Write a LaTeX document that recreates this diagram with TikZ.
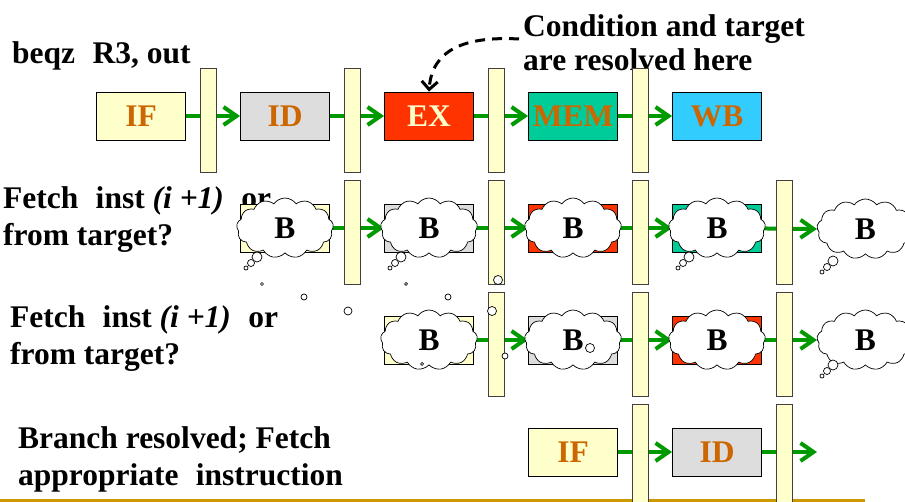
\documentclass[tikz,border=0pt]{standalone}
\usepackage{fontspec}
\setmainfont{Liberation Serif}
\usetikzlibrary{shapes.symbols,arrows.meta}

\definecolor{latchyellow}{HTML}{FFFFCC}
\definecolor{idgray}{HTML}{DDDDDD}
\definecolor{exred}{HTML}{FF3300}
\definecolor{memgreen}{HTML}{00CC99}
\definecolor{wbblue}{HTML}{33CCFF}
\definecolor{stagetext}{HTML}{CC6600}
\definecolor{flowgreen}{HTML}{009900}
\definecolor{rulegold}{HTML}{CC9900}

\newcommand{\bigbold}{\fontsize{31.5}{37}\selectfont\bfseries}
\newcommand{\wide}{\hspace{0.55em}}

\tikzset{
    stagebox/.style={draw=black, line width=0.9pt, minimum width=89pt,
        minimum height=48pt, inner sep=0pt, font=\bigbold, text=stagetext},
    latchbar/.style={draw=black!75, fill=latchyellow, line width=0.9pt,
        minimum width=16pt, minimum height=104pt, inner sep=0pt},
    flow/.style={draw=flowgreen, line width=4pt,
        -{Straight Barb[length=13pt,width=18pt]}},
    thought/.style={cloud, cloud puffs=13, cloud puff arc=110,
        cloud ignores aspect, draw, fill=white, line width=0.7pt,
        minimum width=97pt, minimum height=60pt, inner sep=0pt, font=\bigbold},
    bubble/.style={draw, fill=white, line width=0.7pt},
    caption/.style={anchor=north west, align=left, inner sep=0pt, font=\bigbold}
}

\newcommand{\stage}[5]{% name, x, y, fill, label
    \node[stagebox, fill=#4] (#1) at (#2, #3) {#5};%
}
\newcommand{\latch}[3]{% name, x, y
    \node[latchbar] (#1) at (#2, #3) {};%
}
\newcommand{\trail}[2]{% three small bubbles under a thought
    \draw[bubble] (#1, #2) circle[radius=5pt];%
    \draw[bubble] (#1-6, #2+6) circle[radius=3.5pt];%
    \draw[bubble] (#1-11, #2+11) circle[radius=2pt];%
}

\begin{document}
\begin{tikzpicture}[x=1pt, y=-1pt]

        \clip (0, 0) rectangle (905, 502);

        % Texts on the left
        \node[caption] (beqz) at (12, 41) {beqz\wide R3, out};
        \node[caption] (guess1) at (3, 186) {Fetch\wide inst \textit{(i +1)}\wide or\\from target?};
        \node[caption] (guess2) at (10, 305) {Fetch\wide inst \textit{(i +1)}\wide or\\from target?};
        \node[caption] (resolved) at (18, 426) {Branch resolved; Fetch\\appropriate\wide instruction};
        \node[caption, font=\fontsize{31.5}{34}\selectfont\bfseries] (cond) at (523, 14) {Condition and target\\are resolved here};

        % Bottom rule
        \draw[rulegold, line width=3pt] (0, 500) -- (865, 500);

        % --- Row 1: beqz ---
        \stage{if1}{141}{116}{latchyellow}{IF}
        \stage{id1}{285}{116}{idgray}{ID}
        \stage{ex1}{429}{116}{exred}{\color{latchyellow}EX}
        \stage{mem1}{573}{116}{memgreen}{MEM}
        \stage{wb1}{717}{116}{wbblue}{WB}

        % --- Row 2: next fetch ---
        \stage{if2}{285}{228}{latchyellow}{}
        \stage{id2}{429}{228}{idgray}{}
        \stage{ex2}{573}{228}{exred}{}
        \stage{mem2}{717}{228}{memgreen}{}

        % --- Row 3: fetch after that ---
        \stage{if3}{429}{340}{latchyellow}{}
        \stage{id3}{573}{340}{idgray}{}
        \stage{ex3}{717}{340}{exred}{}

        % --- Row 4: after the branch is resolved ---
        \stage{if4}{573}{452}{latchyellow}{IF}
        \stage{id4}{717}{452}{idgray}{ID}
        \coordinate (next4) at (817, 452);

        % Thoughts at the end of rows 2 and 3
        \coordinate (tip2) at (817, 229);
        \coordinate (tip3) at (817, 340);

        % Green flow arrows
        \draw[flow] (if1) -- (id1);
        \draw[flow] (id1) -- (ex1);
        \draw[flow] (ex1) -- (mem1);
        \draw[flow] (mem1) -- (wb1);
        \draw[flow] (if2) -- (id2);
        \draw[flow] (id2) -- (ex2);
        \draw[flow] (ex2) -- (mem2);
        \draw[flow] (mem2) -- (tip2);
        \draw[flow] (if3) -- (id3);
        \draw[flow] (id3) -- (ex3);
        \draw[flow] (ex3) -- (tip3);
        \draw[flow] (if4) -- (id4);
        \draw[flow] (id4) -- (next4);

        % Pipeline latches
        \latch{l10}{208}{120} \latch{l11}{352}{120} \latch{l12}{496}{120} \latch{l13}{640}{120}
        \latch{l21}{352}{232} \latch{l22}{496}{232} \latch{l23}{640}{232} \latch{l24}{784}{232}
        \latch{l32}{496}{344} \latch{l33}{640}{344} \latch{l34}{784}{344}
        \latch{l43}{640}{456} \latch{l44}{784}{456}

        % Clouds over the guessed stages
        \node[thought] (b21) at (if2) {B};
        \node[thought] (b22) at (id2) {B};
        \node[thought] (b23) at (ex2) {B};
        \node[thought] (b24) at (mem2) {B};
        \node[thought, anchor=west] (b25) at (tip2) {B};
        \node[thought] (b32) at (if3) {B};
        \node[thought] (b33) at (id3) {B};
        \node[thought] (b34) at (ex3) {B};
        \node[thought, anchor=west] (b35) at (tip3) {B};

        % Bubbles
        \trail{257}{257}
        \trail{401}{257}
        \trail{689}{257}
        \trail{833}{261}
        \trail{833}{365}
        \draw[bubble] (262, 284) circle[radius=1.5pt];
        \draw[bubble] (304, 297) circle[radius=3pt];
        \draw[bubble] (348, 311) circle[radius=4pt];
        \draw[bubble] (406, 284) circle[radius=1.5pt];
        \draw[bubble] (448, 297) circle[radius=3pt];
        \draw[bubble] (492, 311) circle[radius=4.5pt];
        \draw[bubble] (498, 280) circle[radius=4.5pt];
        \draw[bubble] (505, 356) circle[radius=3pt];
        \draw[bubble] (590, 348) circle[radius=4.5pt];
        \draw[bubble] (422, 364) circle[radius=1.5pt];

        % Where the branch is resolved
        \coordinate (condtail) at (519, 39);
        \draw[dashed, line width=3pt, dash pattern=on 10pt off 7pt,
            -{Straight Barb[length=8pt,width=16pt]}]
            (condtail) .. controls (464, 36) and (432, 50) .. (ex1.north);

\end{tikzpicture}
\end{document}
